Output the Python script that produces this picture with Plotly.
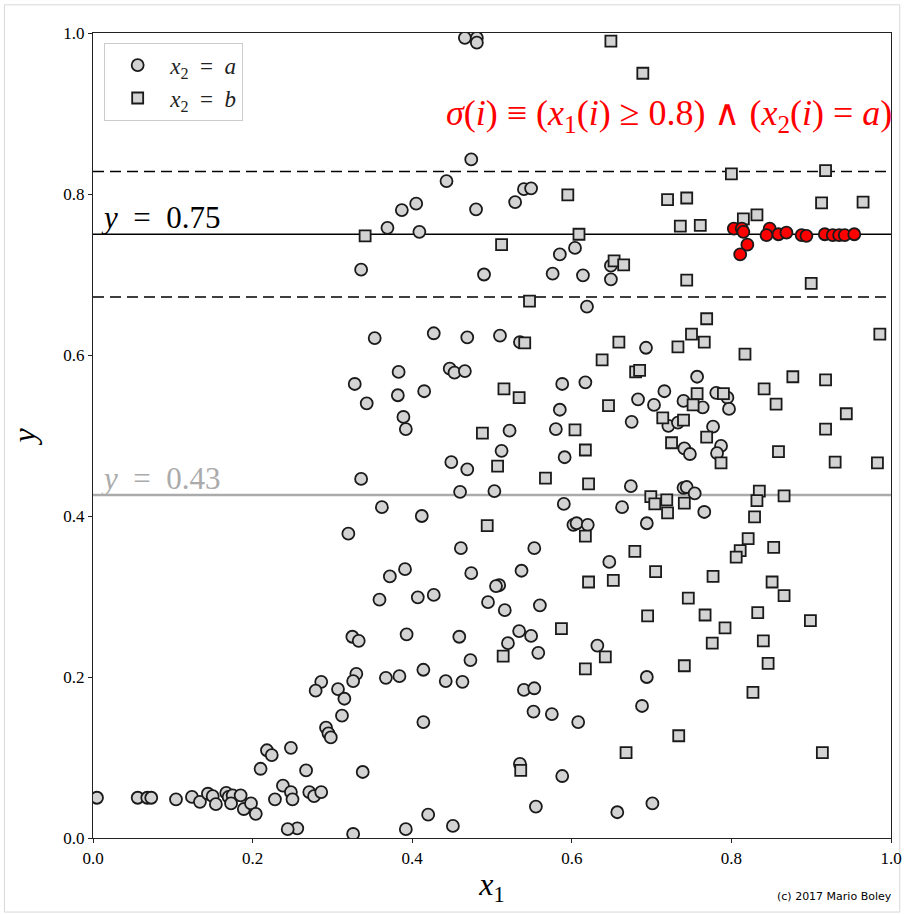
import plotly.graph_objects as go

# x2 = a (grey circles)
xa = [0.466,0.481,0.481,0.474,0.443,0.405,0.387,0.480,0.369,0.409,0.336,0.490,
      0.529,0.540,0.549,0.585,0.604,0.576,0.614,0.649,0.649,
      0.353,0.427,0.469,0.510,0.383,0.447,0.453,0.466,0.328,0.343,0.382,0.415,0.389,0.392,0.512,0.449,0.469,0.336,0.460,0.503,0.362,0.412,0.320,0.461,
      0.619,0.535,0.693,0.757,0.588,0.617,0.585,0.683,0.716,0.703,0.740,0.764,0.675,0.721,0.733,0.522,0.580,0.741,0.748,0.591,0.674,0.740,0.744,0.754,0.766,0.590,0.663,0.602,0.606,0.620,0.694,0.553,0.647,0.537,
      0.781,0.795,0.797,0.777,0.787,0.782,
      0.509,0.516,0.560,0.534,0.549,0.520,0.558,0.632,0.694,0.540,0.553,0.688,0.552,0.575,0.608,0.535,0.588,0.555,0.657,0.701,
      0.372,0.391,0.474,0.505,0.359,0.407,0.427,0.495,0.325,0.333,0.393,0.459,0.473,0.286,0.279,0.307,0.315,0.330,0.326,0.367,0.384,0.414,0.442,0.463,0.312,0.414,0.292,0.295,0.298,0.248,0.267,0.338,0.271,0.277,0.286,0.256,0.326,0.392,0.420,0.451,
      0.005,0.056,0.068,0.073,0.104,0.124,0.134,0.144,0.150,0.154,0.167,0.170,0.175,0.173,0.185,0.189,0.198,0.204,0.210,0.218,0.224,0.228,0.238,0.248,0.250,0.244]
ya = [0.994,0.994,0.988,0.843,0.816,0.788,0.780,0.781,0.758,0.753,0.706,0.700,
      0.790,0.806,0.807,0.725,0.733,0.701,0.699,0.711,0.694,
      0.621,0.627,0.622,0.624,0.579,0.583,0.578,0.580,0.564,0.540,0.550,0.555,0.523,0.508,0.481,0.467,0.458,0.446,0.430,0.431,0.411,0.400,0.378,0.360,
      0.660,0.616,0.609,0.573,0.564,0.566,0.532,0.545,0.555,0.538,0.543,0.535,0.517,0.512,0.516,0.506,0.508,0.484,0.477,0.473,0.437,0.435,0.436,0.428,0.405,0.415,0.411,0.389,0.391,0.389,0.391,0.360,0.343,0.332,
      0.553,0.547,0.533,0.511,0.487,0.478,
      0.314,0.283,0.289,0.257,0.251,0.242,0.230,0.239,0.200,0.184,0.186,0.164,0.157,0.154,0.144,0.092,0.077,0.039,0.032,0.043,
      0.325,0.334,0.329,0.313,0.296,0.299,0.302,0.293,0.250,0.245,0.253,0.250,0.221,0.194,0.183,0.185,0.173,0.204,0.195,0.199,0.201,0.209,0.195,0.194,0.152,0.144,0.137,0.130,0.125,0.112,0.084,0.082,0.057,0.052,0.057,0.012,0.005,0.011,0.029,0.015,
      0.050,0.050,0.050,0.050,0.048,0.051,0.045,0.055,0.052,0.042,0.056,0.051,0.053,0.043,0.053,0.036,0.043,0.030,0.086,0.109,0.103,0.048,0.065,0.057,0.048,0.011]

# sigma subgroup: x1 >= 0.8 and x2 = a (red circles)
xs = [0.803,0.813,0.815,0.820,0.811,0.848,0.844,0.859,0.869,0.888,0.894,0.917,0.927,0.935,0.942,0.954]
ys = [0.757,0.757,0.753,0.737,0.725,0.757,0.749,0.750,0.752,0.749,0.748,0.750,0.749,0.749,0.749,0.750]

# x2 = b (grey squares)
xb = [0.341,0.512,0.649,0.689,0.595,0.720,0.744,0.736,0.761,0.609,0.653,0.665,0.744,0.547,
      0.800,0.918,0.913,0.965,0.815,0.832,0.900,
      0.515,0.488,0.507,0.494,
      0.541,0.659,0.733,0.750,0.769,0.766,0.638,0.680,0.685,0.534,0.646,0.757,0.752,0.714,0.740,0.604,0.725,0.769,0.617,0.567,0.621,0.699,0.704,0.719,0.720,0.741,0.617,0.679,0.705,
      0.986,0.817,0.877,0.918,0.841,0.856,0.944,0.918,0.859,0.930,0.983,0.790,0.787,0.835,0.832,0.866,0.829,0.821,0.811,0.806,0.853,
      0.777,0.851,0.866,0.767,0.833,0.899,0.792,0.776,0.840,0.846,0.827,0.914,
      0.621,0.652,0.746,0.695,0.587,0.514,0.642,0.617,0.741,0.734,0.668,0.536]
yb = [0.748,0.737,0.990,0.950,0.799,0.793,0.795,0.760,0.761,0.750,0.717,0.712,0.693,0.667,
      0.825,0.829,0.789,0.790,0.769,0.774,0.689,
      0.558,0.503,0.462,0.388,
      0.615,0.616,0.610,0.626,0.645,0.616,0.594,0.579,0.581,0.547,0.537,0.552,0.538,0.522,0.519,0.507,0.491,0.498,0.482,0.447,0.440,0.424,0.415,0.420,0.404,0.416,0.375,0.356,0.331,
      0.626,0.601,0.573,0.569,0.558,0.539,0.527,0.508,0.480,0.467,0.466,0.552,0.466,0.431,0.419,0.425,0.399,0.372,0.357,0.349,0.361,
      0.325,0.318,0.301,0.277,0.280,0.270,0.261,0.242,0.245,0.217,0.181,0.106,
      0.318,0.320,0.298,0.276,0.260,0.226,0.225,0.210,0.214,0.127,0.106,0.084]

y_target = 0.75
y_band = 0.078
y_global = 0.426

serif = "Liberation Serif"
sp = "&nbsp;"
sp2 = "&nbsp; "
fig = go.Figure()
fig.add_trace(go.Scatter(x=xa, y=ya, mode="markers", name=f"<i>x</i><sub>2</sub>{sp2}={sp2}<i>a</i>",
                         marker=dict(symbol="circle", size=12, color="#d3d3d3",
                                     line=dict(color="#1a1a1a", width=1.8))))
fig.add_trace(go.Scatter(x=xb, y=yb, mode="markers", name=f"<i>x</i><sub>2</sub>{sp2}={sp2}<i>b</i>",
                         marker=dict(symbol="square", size=11, color="#d3d3d3",
                                     line=dict(color="#1a1a1a", width=1.8))))
fig.add_trace(go.Scatter(x=xs, y=ys, mode="markers", showlegend=False,
                         marker=dict(symbol="circle", size=12, color="#ff0000",
                                     line=dict(color="#1a1a1a", width=1.8))))

shapes = [
    dict(type="line", xref="paper", x0=0, x1=1, yref="y", y0=y_target, y1=y_target,
         line=dict(color="black", width=1.5), layer="below"),
    dict(type="line", xref="paper", x0=0, x1=1, yref="y", y0=y_target + y_band, y1=y_target + y_band,
         line=dict(color="black", width=1.6, dash="11px,6px"), layer="below"),
    dict(type="line", xref="paper", x0=0, x1=1, yref="y", y0=y_target - y_band, y1=y_target - y_band,
         line=dict(color="black", width=1.6, dash="11px,6px"), layer="below"),
    dict(type="line", xref="paper", x0=0, x1=1, yref="y", y0=y_global, y1=y_global,
         line=dict(color="#ababab", width=2.5), layer="below"),
    dict(type="rect", xref="paper", yref="paper", x0=-0.111, x1=1.011, y0=-0.092, y1=1.035,
         line=dict(color="#d8d8d8", width=1), layer="below"),
]

annotations = [
    dict(x=1.004, y=0.897, xref="paper", yref="y", xanchor="right", yanchor="middle", showarrow=False,
         text=f"<i>σ</i>(<i>i</i>){sp}≡{sp}(<i>x</i><sub>1</sub>(<i>i</i>){sp}≥{sp}0.8){sp}∧{sp}(<i>x</i><sub>2</sub>(<i>i</i>){sp}={sp}<i>a</i>)",
         font=dict(family=serif, size=36, color="#ff0000")),
    dict(x=0.008, y=y_target, xref="paper", yref="y", xanchor="left", yanchor="bottom", showarrow=False,
         text=f"<i>y</i>{sp2}={sp2}0.75", font=dict(family=serif, size=31, color="black"), yshift=-3),
    dict(x=0.008, y=y_global, xref="paper", yref="y", xanchor="left", yanchor="bottom", showarrow=False,
         text=f"<i>y</i>{sp2}={sp2}0.43", font=dict(family=serif, size=31, color="#ababab"), yshift=-3),
    dict(x=0.929, y=-0.073, xref="paper", yref="paper", xanchor="center", yanchor="middle", showarrow=False,
         text="(c) 2017 Mario Boley", font=dict(family="DejaVu Sans", size=11, color="black")),
]

fig.update_layout(
    width=914, height=914,
    margin=dict(l=93, r=17, t=33, b=76),
    paper_bgcolor="white", plot_bgcolor="white",
    showlegend=True,
    legend=dict(x=0.014, y=0.988, xanchor="left", yanchor="top",
                bgcolor="white", bordercolor="#cccccc", borderwidth=1,
                itemwidth=55, tracegroupgap=0,
                font=dict(family=serif, size=23, color="#222")),
    shapes=shapes, annotations=annotations,
    xaxis=dict(range=[0, 1], tickvals=[0, 0.2, 0.4, 0.6, 0.8, 1.0],
               ticktext=["0.0", "0.2", "0.4", "0.6", "0.8", "1.0"],
               showgrid=False, zeroline=False, showline=True, mirror=True,
               linecolor="#222", linewidth=1.3, ticks="outside", ticklen=4, tickcolor="#222",
               tickfont=dict(family=serif, size=17, color="black"),
               title=dict(text="<i>x</i><sub>1</sub>", font=dict(family=serif, size=32, color="black"), standoff=6)),
    yaxis=dict(range=[0, 1], tickvals=[0, 0.2, 0.4, 0.6, 0.8, 1.0],
               ticktext=["0.0", "0.2", "0.4", "0.6", "0.8", "1.0"],
               showgrid=False, zeroline=False, showline=True, mirror=True,
               linecolor="#222", linewidth=1.3, ticks="outside", ticklen=4, tickcolor="#222",
               tickfont=dict(family=serif, size=17, color="black"),
               title=dict(text="<i>y</i>", font=dict(family=serif, size=32, color="black"), standoff=18)),
)

fig.write_html("out.html")
